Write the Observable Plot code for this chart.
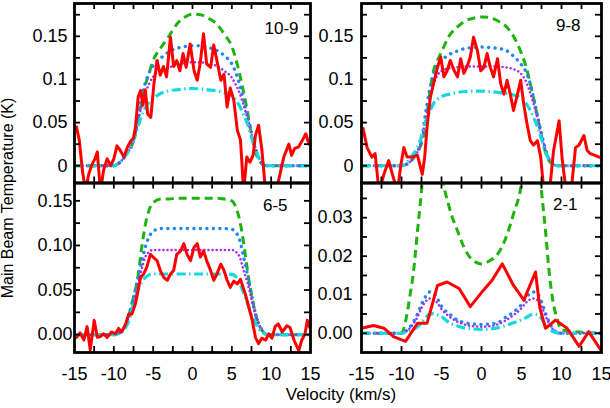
<!DOCTYPE html>
<html><head><meta charset="utf-8">
<script src="https://cdn.jsdelivr.net/npm/d3@7"></script>
<script src="https://cdn.jsdelivr.net/npm/@observablehq/plot@0.6"></script>
<style>
body{margin:0;background:#fff;}
#chart{position:relative;width:610px;height:408px;font-family:"Liberation Sans",Arial,sans-serif;color:#000;overflow:hidden;}
#chart svg{position:absolute;overflow:visible;}
.lab{position:absolute;white-space:nowrap;line-height:1;}
</style></head><body><div id="chart"></div>
<script>
// ---------- axis ticks ----------
const xLabelValues = [-15, -10, -5, 0, 5, 10, 15];
const xMinorTicks = [-12.5, -10, -7.5, -5, -2.5, 0, 2.5, 5, 7.5, 10, 12.5];
const yTicksTop = [0, 0.025, 0.05, 0.075, 0.1, 0.125, 0.15, 0.175];
const yLabelValuesTop = [0, 0.05, 0.1, 0.15];
const yLabelTextTop = ["0", "0.05", "0.1", "0.15"];
const yTicks65 = [0, 0.025, 0.05, 0.075, 0.1, 0.125, 0.15];
const yLabelValues65 = [0, 0.05, 0.1, 0.15];
const yLabelText65 = ["0.00", "0.05", "0.10", "0.15"];
const yTicks21 = [0, 0.005, 0.01, 0.015, 0.02, 0.025, 0.03, 0.035];
const yLabelValues21 = [0, 0.01, 0.02, 0.03];
const yLabelText21 = ["0.00", "0.01", "0.02", "0.03"];
const panelLabels = ["10-9", "9-8", "6-5", "2-1"];

// ---------- model velocity grid (km/s) ----------
const modelVel = [-15, -10.5, -10, -9.5, -9, -8.5, -8, -7.5, -7, -6.5, -6, -5.5, -5, -4, -3, -2, -1, 0, 1, 2, 3, 4, 5, 5.5, 6, 6.5, 7, 7.5, 8, 8.5, 9, 9.5, 10, 15];

// ---------- 10-9 ----------
const green109 = [0,0,0,0.002,0.006,0.012,0.019,0.029,0.05,0.072,0.093,0.108,0.122,0.137,0.15,0.164,0.172,0.1756,0.175,0.171,0.165,0.153,0.138,0.124,0.106,0.085,0.062,0.036,0.016,0.006,0.001,0,0,0];
const blue109 = [0,0,0,0.002,0.006,0.012,0.019,0.029,0.05,0.078,0.096,0.108,0.116,0.125,0.132,0.136,0.138,0.139,0.139,0.137,0.134,0.128,0.118,0.108,0.094,0.076,0.058,0.038,0.02,0.008,0.002,0,0,0];
const purple109 = [0,0,0,0.002,0.006,0.012,0.019,0.029,0.048,0.068,0.084,0.095,0.103,0.11,0.114,0.117,0.119,0.12,0.12,0.118,0.116,0.11,0.102,0.094,0.084,0.07,0.055,0.037,0.02,0.008,0.002,0,0,0];
const cyan109 = [0,0,0,0.002,0.006,0.012,0.019,0.029,0.043,0.057,0.067,0.074,0.078,0.084,0.087,0.088,0.089,0.0895,0.089,0.088,0.087,0.085,0.081,0.076,0.069,0.059,0.048,0.033,0.02,0.008,0.002,0,0,0];
const obsVel109 = [-14.75,-14.4,-14.0,-13.6,-13.2,-12.75,-12.4,-12.1,-11.7,-11.3,-10.85,-10.4,-10.0,-9.6,-9.2,-8.7,-8.3,-7.9,-7.5,-7.25,-6.9,-6.6,-6.3,-6.0,-5.7,-5.3,-4.9,-4.5,-4.1,-3.7,-3.3,-2.8,-2.4,-2.0,-1.6,-1.2,-0.8,-0.3,0.2,0.6,1.0,1.4,1.8,2.3,2.7,3.1,3.6,4.0,4.4,4.8,5.25,5.7,6.1,6.5,6.9,7.3,7.7,8.0,8.4,8.8,9.2,9.5,10.0,10.5,11.0,11.6,12.25,12.6,13.0,13.5,14.0,14.4,14.8];
const obsT109 = [0.045,0.03,-0.005,-0.03,-0.01,0.002,0.008,0.016,-0.03,-0.005,0.008,0.0,0.008,0.023,0.018,0.01,0.021,0.028,0.032,0.045,0.08,0.087,0.07,0.088,0.06,0.056,0.095,0.122,0.105,0.115,0.103,0.149,0.115,0.122,0.11,0.13,0.114,0.141,0.11,0.099,0.12,0.153,0.118,0.114,0.14,0.122,0.099,0.106,0.068,0.09,0.076,0.041,0.03,-0.03,0.01,0.004,0.012,0.035,0.047,0.02,-0.02,-0.03,-0.03,-0.03,-0.015,0.01,0.025,0.012,0.02,0.022,0.03,0.037,0.025];

// ---------- 9-8 ----------
const green98 = [0,0,0,0.001,0.004,0.009,0.016,0.026,0.045,0.082,0.11,0.122,0.132,0.151,0.161,0.168,0.171,0.1725,0.172,0.168,0.162,0.15,0.13,0.117,0.099,0.078,0.057,0.034,0.016,0.005,0.001,0,0,0];
const blue98 = [0,0,0,0.001,0.004,0.009,0.016,0.03,0.06,0.087,0.106,0.117,0.122,0.129,0.133,0.136,0.137,0.1376,0.137,0.136,0.134,0.127,0.117,0.11,0.098,0.079,0.058,0.037,0.019,0.007,0.002,0,0,0];
const purple98 = [0,0,0,0.001,0.004,0.009,0.016,0.03,0.052,0.074,0.094,0.105,0.11,0.113,0.114,0.115,0.115,0.115,0.115,0.115,0.114,0.112,0.106,0.099,0.087,0.072,0.055,0.035,0.019,0.007,0.002,0,0,0];
const cyan98 = [0,0,0,0.002,0.008,0.014,0.021,0.034,0.05,0.062,0.072,0.077,0.08,0.083,0.085,0.086,0.0864,0.0864,0.086,0.085,0.084,0.082,0.078,0.073,0.066,0.056,0.045,0.031,0.016,0.006,0.001,0,0,0];
const obsVel98 = [-14.8,-14.3,-13.7,-13.3,-12.8,-12.2,-11.6,-11.2,-10.5,-10.1,-9.7,-9.3,-8.7,-8.0,-7.4,-7.1,-6.8,-6.4,-6.0,-5.5,-5.1,-4.7,-4.3,-3.9,-3.5,-3.0,-2.6,-2.2,-1.8,-1.4,-1.0,-0.5,-0.1,0.3,0.7,1.1,1.5,2.0,2.4,2.8,3.2,3.6,4.0,4.5,4.9,5.3,5.7,6.1,6.5,7.0,7.4,7.8,8.5,9.0,9.7,10.1,10.6,11.2,11.75,12.2,12.8,13.2,13.6,14.2,14.7];
const obsT98 = [0.043,0.021,0.01,0.014,-0.03,-0.01,0.006,-0.008,-0.03,0.0,0.021,0.01,0.01,0.012,-0.01,0.01,0.045,0.079,0.095,0.114,0.126,0.103,0.11,0.122,0.112,0.103,0.124,0.107,0.115,0.126,0.149,0.133,0.11,0.114,0.13,0.114,0.103,0.124,0.095,0.083,0.099,0.083,0.064,0.083,0.099,0.07,0.048,0.029,0.024,0.029,0.01,-0.03,-0.03,0.017,0.052,0.006,-0.03,-0.03,0.021,0.024,0.035,0.018,0.014,0.012,0.01];

// ---------- 6-5 ----------
const green65 = [0,0,0,0.001,0.004,0.011,0.025,0.042,0.061,0.095,0.123,0.14,0.148,0.152,0.152,0.153,0.153,0.153,0.153,0.153,0.153,0.152,0.15,0.143,0.128,0.103,0.071,0.045,0.024,0.01,0.003,0,0,0];
const blue65 = [0,0,0,0.001,0.004,0.011,0.024,0.042,0.061,0.08,0.098,0.11,0.116,0.119,0.119,0.119,0.119,0.119,0.119,0.119,0.119,0.119,0.118,0.115,0.106,0.087,0.067,0.045,0.024,0.01,0.003,0,0,0];
const purple65 = [0,0,0,0.001,0.004,0.01,0.022,0.036,0.053,0.072,0.087,0.093,0.095,0.095,0.095,0.095,0.095,0.095,0.095,0.095,0.095,0.095,0.095,0.093,0.087,0.072,0.058,0.04,0.022,0.01,0.003,0,0,0];
const cyan65 = [0,0,0,0.001,0.003,0.008,0.018,0.035,0.049,0.058,0.064,0.067,0.068,0.068,0.068,0.068,0.068,0.068,0.068,0.068,0.068,0.068,0.0675,0.065,0.058,0.047,0.035,0.022,0.013,0.006,0.002,0,0,0];
const obsVel65 = [-14.75,-14.3,-13.8,-13.4,-13.0,-12.5,-12.1,-11.7,-11.3,-10.85,-10.3,-9.8,-9.4,-9.0,-8.5,-8.1,-7.7,-7.25,-7.0,-6.6,-6.2,-5.8,-5.35,-4.9,-4.5,-4.1,-3.65,-3.2,-2.8,-2.4,-2.0,-1.5,-1.1,-0.7,-0.25,0.2,0.6,1.0,1.4,1.8,2.3,2.7,3.1,3.6,4.0,4.4,4.8,5.25,5.7,6.1,6.7,7.15,7.6,8.0,8.4,8.8,9.3,9.7,10.1,10.5,10.9,11.4,12.0,12.4,12.9,13.5,13.9,14.3,14.6,14.9];
const obsT65 = [-0.003,0.002,-0.006,0.009,-0.017,0.016,-0.003,-0.002,0.001,-0.003,0.003,0.001,0.007,0.003,0.012,0.023,0.023,0.035,0.046,0.064,0.068,0.076,0.09,0.086,0.083,0.072,0.064,0.061,0.068,0.072,0.09,0.094,0.102,0.09,0.083,0.098,0.102,0.087,0.094,0.083,0.072,0.061,0.068,0.079,0.072,0.061,0.053,0.06,0.057,0.062,0.046,0.031,0.016,-0.003,-0.01,-0.004,-0.006,0.001,-0.004,0.009,0.012,0.003,0.01,0.008,-0.006,-0.018,-0.006,0.001,0.016,0.008];

// ---------- 2-1 ----------
const green21 = [0,0,0,0.003,0.009,0.016,0.0266,0.037,0.05,0.058,0.06,0.055,0.043,0.0325,0.0266,0.0215,0.0188,0.018,0.0188,0.0205,0.0245,0.031,0.039,0.048,0.057,0.06,0.05,0.037,0.0266,0.015,0.0075,0.0035,0.0008,0];
const blue21 = [0,0,0,0.0005,0.0015,0.003,0.005,0.0075,0.0095,0.0107,0.0104,0.009,0.007,0.005,0.0034,0.0027,0.0024,0.0023,0.0024,0.0027,0.0041,0.0055,0.0075,0.0092,0.0102,0.0107,0.0102,0.0082,0.0052,0.0027,0.0009,0.0002,0,0];
const purple21 = [0,0,0,0.0004,0.0012,0.0025,0.0042,0.0065,0.0082,0.009,0.0088,0.0078,0.0063,0.0043,0.003,0.0022,0.0018,0.0017,0.0018,0.0023,0.0033,0.0047,0.0065,0.0078,0.0087,0.009,0.0086,0.007,0.0045,0.0023,0.0009,0.0002,0,0];
const cyan21 = [0,0,0,0.0002,0.0006,0.001,0.0017,0.0028,0.004,0.0049,0.0051,0.0048,0.0043,0.0027,0.0019,0.0013,0.0011,0.001,0.0011,0.0014,0.002,0.0027,0.0035,0.004,0.0046,0.005,0.0048,0.0038,0.002,0.001,0.0004,0.0001,0,0];
const obsVel21 = [-15,-13.5,-12.2,-11,-9.5,-8.0,-6.8,-5.5,-4.3,-2.8,-1.4,-0.1,1.3,2.6,4.0,5.3,6.75,7.3,8.0,9.25,10.7,12.2,13.4,14.9];
const obsT21 = [0.0013,0.002,0.0013,-0.0009,-0.0021,0.0026,0.0026,0.0124,0.0133,0.0116,0.0069,0.0103,0.0137,0.018,0.0124,0.0086,0.0159,0.0065,0.0013,0.0034,0.0013,-0.0034,0.0004,-0.0043];

// ---------- drawing ----------
const FONT = '"Liberation Sans", Arial, Helvetica, sans-serif';
const chart = document.getElementById("chart");

const styles = {
  green: {stroke: "#1fb30f", strokeWidth: 3, strokeDasharray: "8 5", strokeLinecap: "butt"},
  blue: {stroke: "#1e88f0", strokeWidth: 3.4, strokeDasharray: "0.1 6.4", strokeLinecap: "round"},
  purple: {stroke: "#a92cf0", strokeWidth: 2.5, strokeDasharray: "0.1 4", strokeLinecap: "round"},
  cyan: {stroke: "#14d8dc", strokeWidth: 3.2, strokeDasharray: "9 3.5 1.5 3.5", strokeLinecap: "butt"},
  red: {stroke: "#ff0000", strokeWidth: 3, strokeLinejoin: "round"}
};

function panel(p) {
  const fw = p.width - p.mL - p.mR, fh = p.height - p.mT - p.mB;
  const modelLine = (vals, st) => Plot.line(vals, {x: modelVel, y: vals, curve: "monotone-x", clip: true, ...st});
  const marks = [
    modelLine(p.green, styles.green),
    modelLine(p.blue, styles.blue),
    modelLine(p.purple, styles.purple),
    modelLine(p.cyan, styles.cyan),
    Plot.line(p.obsT, {x: p.obsV, y: p.obsT, clip: true, ...styles.red}),
    Plot.tickY(p.yTicks, {y: d => d, insetRight: fw - 6, strokeWidth: 1.8}),
    Plot.tickY(p.yTicks, {y: d => d, insetLeft: fw - 6, strokeWidth: 1.8}),
    Plot.tickX(xMinorTicks, {x: d => d, insetTop: fh - 6, strokeWidth: 1.8}),
    Plot.tickX(xMinorTicks, {x: d => d, insetBottom: fh - 6, strokeWidth: 1.8}),
    Plot.frame({stroke: "#000", strokeWidth: 2.8}),
    Plot.text(p.yLabelText, {y: p.yLabelValues, text: d => d, frameAnchor: "left", textAnchor: "end", lineAnchor: "middle", dx: -p.yPad, fontSize: 18, fill: "#000"}),
    Plot.text([p.label], {text: d => d, frameAnchor: "top-right", textAnchor: "end", lineAnchor: "middle", dx: p.labelDx, dy: p.labelDy, fontSize: 17, fill: "#000"})
  ];
  if (p.showX) {
    marks.push(Plot.text(xLabelValues, {x: d => d, text: d => String(d), frameAnchor: "bottom", lineAnchor: "middle", dy: 21.5, fontSize: 18, fill: "#000"}));
  }
  const svg = Plot.plot({
    width: p.width, height: p.height,
    marginLeft: p.mL, marginRight: p.mR, marginTop: p.mT, marginBottom: p.mB,
    x: {domain: [-15, 15], axis: null},
    y: {domain: p.yDomain, axis: null},
    style: {background: "transparent", overflow: "visible", fontFamily: FONT, fontSize: "18px", color: "#000"},
    marks
  });
  svg.style.left = p.left + "px";
  svg.style.top = p.top + "px";
  chart.appendChild(svg);
}

panel({left: 0, top: 0, width: 312, height: 184, mL: 74, mR: 2, mT: 3, mB: 1.5,
  yDomain: [-0.02, 0.188], yTicks: yTicksTop, yLabelValues: yLabelValuesTop, yLabelText: yLabelTextTop, yPad: 7,
  label: panelLabels[0], labelDx: -12, labelDy: 25,
  green: green109, blue: blue109, purple: purple109, cyan: cyan109, obsV: obsVel109, obsT: obsT109, showX: false});
panel({left: 312, top: 0, width: 298, height: 184, mL: 49, mR: 9, mT: 3, mB: 1.5,
  yDomain: [-0.02, 0.188], yTicks: yTicksTop, yLabelValues: yLabelValuesTop, yLabelText: yLabelTextTop, yPad: 8,
  label: panelLabels[1], labelDx: -21, labelDy: 22.5,
  green: green98, blue: blue98, purple: purple98, cyan: cyan98, obsV: obsVel98, obsT: obsT98, showX: false});
panel({left: 0, top: 180, width: 312, height: 200, mL: 74, mR: 2, mT: 2.5, mB: 28,
  yDomain: [-0.02, 0.17], yTicks: yTicks65, yLabelValues: yLabelValues65, yLabelText: yLabelText65, yPad: 2,
  label: panelLabels[2], labelDx: -23, labelDy: 22.5,
  green: green65, blue: blue65, purple: purple65, cyan: cyan65, obsV: obsVel65, obsT: obsT65, showX: true});
panel({left: 312, top: 180, width: 298, height: 200, mL: 49, mR: 9, mT: 2.5, mB: 28,
  yDomain: [-0.005, 0.039], yTicks: yTicks21, yLabelValues: yLabelValues21, yLabelText: yLabelText21, yPad: 9,
  label: panelLabels[3], labelDx: -24, labelDy: 22,
  green: green21, blue: blue21, purple: purple21, cyan: cyan21, obsV: obsVel21, obsT: obsT21, showX: true});

const yTitle = document.createElement("div");
yTitle.className = "lab";
yTitle.textContent = "Main Beam Temperature (K)";
Object.assign(yTitle.style, {left: "8px", top: "198px", fontSize: "16px", transform: "translate(-50%,-50%) rotate(-90deg)"});
chart.appendChild(yTitle);

const xTitle = document.createElement("div");
xTitle.className = "lab";
xTitle.textContent = "Velocity (km/s)";
Object.assign(xTitle.style, {left: "341px", top: "385.5px", fontSize: "17px", transform: "translateX(-50%)"});
chart.appendChild(xTitle);
</script></body></html>
